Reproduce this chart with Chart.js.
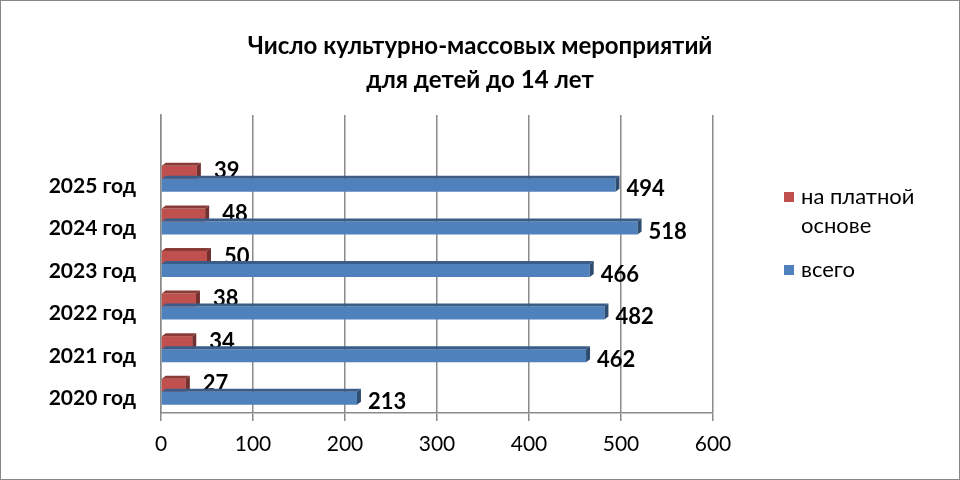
<!DOCTYPE html>
<html>
<head>
<meta charset="utf-8">
<script src="https://cdn.jsdelivr.net/npm/chart.js@4/dist/chart.umd.min.js"></script>
<style>
  html, body { margin: 0; padding: 0; background: #fff; }
  #wrap { width: 960px; height: 480px; }
</style>
</head>
<body>
<div id="wrap"><canvas id="bar-chart"></canvas></div>
<script>
// values, top row first
const categories = ["2025 год", "2024 год", "2023 год", "2022 год", "2021 год", "2020 год"];
const paid = [39, 48, 50, 38, 34, 27];
const total = [494, 518, 466, 482, 462, 213];
const xTicks = [0, 100, 200, 300, 400, 500, 600];
const seriesNames = ["на платной основе", "всего"];
const titleLines = ["Число культурно-массовых мероприятий", "для детей до 14 лет"];

const FONT = "Lato, 'Open Sans', sans-serif";

// empty row on top leaves the space above the bars like in the 3D excel chart
const rowLabels = [""].concat(categories);

function shade(hex, f) {
    const n = parseInt(hex.slice(1), 16);
    const r = Math.round(((n >> 16) & 255) * f);
    const g = Math.round(((n >> 8) & 255) * f);
    const b = Math.round((n & 255) * f);
    return "rgb(" + r + "," + g + "," + b + ")";
}

const framePlugin = {
    id: "frame",
    beforeDraw(chart) {
        const ctx = chart.ctx;
        ctx.save();
        ctx.fillStyle = "#fff";
        ctx.fillRect(0, 0, chart.width, chart.height);
        ctx.restore();
    },
    afterDraw(chart) {
        const ctx = chart.ctx;
        ctx.save();
        ctx.strokeStyle = "#868686";
        ctx.lineWidth = 1;
        ctx.strokeRect(0.5, 0.5, chart.width - 1, chart.height - 1);

        // title
        ctx.fillStyle = "#000";
        ctx.font = "bold 24px " + FONT;
        ctx.textAlign = "center";
        ctx.textBaseline = "middle";
        ctx.fillText(titleLines[0], 480, 46);
        ctx.fillText(titleLines[1], 480, 80);

        // legend on the right
        ctx.font = "22px " + FONT;
        ctx.textAlign = "left";
        let y = 197;
        chart.data.datasets.forEach(function (ds) {
            const words = ds.label.split(" ");
            const lines = [];
            let line = "";
            words.forEach(function (w) {
                const t = line ? line + " " + w : w;
                if (line && ctx.measureText(t).width > 140) { lines.push(line); line = w; }
                else line = t;
            });
            lines.push(line);
            ctx.fillStyle = ds.backgroundColor;
            ctx.fillRect(784, y - 5, 10, 10);
            ctx.fillStyle = "#000";
            lines.forEach(function (l, i) { ctx.fillText(l, 801, y + i * 29); });
            y += lines.length * 29 + 15;
        });
        ctx.restore();
    }
};

// fake 3D faces and value labels
const barsPlugin = {
    id: "bars3d",
    afterDatasetsDraw(chart) {
        const ctx = chart.ctx;
        ctx.save();
        chart.data.datasets.forEach(function (ds, di) {
            const meta = chart.getDatasetMeta(di);
            meta.data.forEach(function (bar, i) {
                const v = ds.data[i];
                if (v === null || v === undefined) return;
                const top = bar.y - bar.height / 2;
                const bot = bar.y + bar.height / 2;
                const d = 4, h = 3;
                ctx.fillStyle = shade(ds.backgroundColor, 0.72);
                ctx.beginPath();
                ctx.moveTo(bar.base, top);
                ctx.lineTo(bar.x, top);
                ctx.lineTo(bar.x + d, top - h);
                ctx.lineTo(bar.base + d, top - h);
                ctx.closePath();
                ctx.fill();
                ctx.fillStyle = shade(ds.backgroundColor, 0.6);
                ctx.beginPath();
                ctx.moveTo(bar.x, top);
                ctx.lineTo(bar.x + d, top - h);
                ctx.lineTo(bar.x + d, bot - h);
                ctx.lineTo(bar.x, bot);
                ctx.closePath();
                ctx.fill();

                ctx.fillStyle = "#000";
                ctx.font = "bold 22px " + FONT;
                ctx.textAlign = "left";
                ctx.textBaseline = "middle";
                if (di === 0) ctx.fillText(v, bar.x + 17, bar.y - 1);
                else ctx.fillText(v, bar.x + 11, bar.y + 4);
            });
        });
        ctx.restore();
    }
};

new Chart(document.getElementById("bar-chart"), {
    type: "bar",
    data: {
        labels: rowLabels,
        datasets: [
            {
                label: seriesNames[0],
                data: [null].concat(paid),
                backgroundColor: "#C0504D",
                borderWidth: 0,
            },
            {
                label: seriesNames[1],
                data: [null].concat(total),
                backgroundColor: "#4F81BD",
                borderWidth: 0,
            },
        ],
    },
    options: {
        indexAxis: "y",
        responsive: true,
        maintainAspectRatio: false,
        animation: false,
        categoryPercentage: 0.61,
        barPercentage: 1,
        layout: { padding: { top: 115, right: 247, left: 0, bottom: 0 } },
        plugins: {
            legend: { display: false },
            title: { display: false },
            tooltip: { enabled: false },
        },
        scales: {
            x: {
                min: 0,
                max: 600,
                afterBuildTicks: function (s) { s.ticks = xTicks.map(function (v) { return { value: v }; }); },
                grid: { color: "#8a8a8a", lineWidth: 1.5, tickLength: 8 },
                border: { color: "#8a8a8a", width: 1.5 },
                ticks: { color: "#000", padding: 11, font: { family: FONT, size: 21 } },
                afterFit: function (s) { s.height = 67; },
            },
            y: {
                grid: { display: false, drawTicks: false },
                border: { color: "#8a8a8a", width: 1.5 },
                ticks: {
                    color: "#000",
                    padding: 25,
                    labelOffset: 7,
                    font: { family: FONT, size: 21, weight: "bold" },
                },
                afterFit: function (s) { s.width = 161; },
            },
        },
    },
    plugins: [framePlugin, barsPlugin],
});
</script>
</body>
</html>
